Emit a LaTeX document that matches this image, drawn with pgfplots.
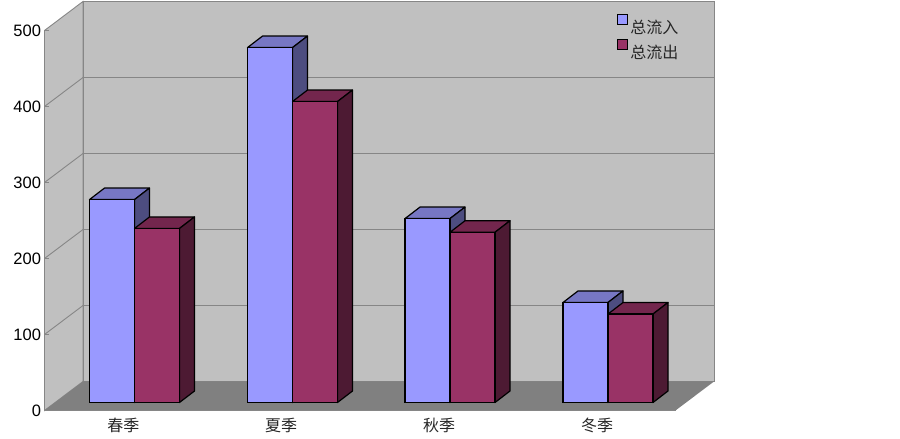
\documentclass[border=0pt]{standalone}
\usepackage{fontspec}
\setmainfont{Liberation Sans}
\newfontfamily\cjk{Noto Sans CJK SC}
\usepackage{pgfplots}
\pgfplotsset{compat=1.18}
\definecolor{infront}{HTML}{9999FF}
\definecolor{intop}{HTML}{7777C4}
\definecolor{inside}{HTML}{4D4D80}
\definecolor{outfront}{HTML}{993366}
\definecolor{outtop}{HTML}{73264D}
\definecolor{outside}{HTML}{4D1A33}
\definecolor{wall}{HTML}{C0C0C0}
\definecolor{floorc}{HTML}{808080}
\definecolor{gridc}{HTML}{868686}

% top and side of one bar: left x, value, top colour, side colour
\newcommand{\barfaces}[4]{%
  \pgfmathsetmacro\xa{#1+45}\pgfmathsetmacro\xb{#1+60}\pgfmathsetmacro\xc{#1+15}%
  \pgfmathsetmacro\ya{#2+10.53}\pgfmathsetmacro\yb{#2+25.66}%
  \edef\tmp{\noexpand\addplot[forget plot,fill=#3,draw=black,line width=1.2pt,line join=round]
    coordinates {(#1,\ya)(\xa,\ya)(\xb,\yb)(\xc,\yb)} -- cycle;
    \noexpand\addplot[forget plot,fill=#4,draw=black,line width=1.2pt,line join=round]
    coordinates {(\xa,10.53)(\xb,25.66)(\xb,\yb)(\xa,\ya)} -- cycle;}%
  \tmp}

\begin{document}
\begin{tikzpicture}
\begin{axis}[
  x=1pt, y=0.76pt,
  xmin=44.5, xmax=675.5,
  ymin=0, ymax=500,
  clip=false,
  axis on top,
  axis x line=bottom, axis y line=left,
  axis line style={draw=gridc,line width=0.9pt,-},
  xtick={123.4,281,439,597},
  xticklabels={春季,夏季,秋季,冬季},
  ytick={0,100,200,300,400,500},
  x tick style={draw=none},
  y tick style={draw=gridc,line width=0.9pt},
  tick align=inside,
  major tick length=5pt,
  x tick label style={font=\cjk\fontsize{16}{18}\selectfont,text=black!85,yshift=-4pt},
  y tick label style={font=\fontsize{16.5}{18}\selectfont},
  /pgf/number format/assume math mode=true,
  legend style={draw=none,fill=none,at={(axis cs:614,525)},anchor=north west,
    font=\cjk\fontsize{16}{18}\selectfont,row sep=2pt,text=black!85},
]
% walls and floor
\addplot[forget plot,fill=wall,draw=gridc,line width=0.9pt] coordinates {(44.5,0)(83,38.16)(83,538.2)(44.5,500)} -- cycle;
\addplot[forget plot,fill=wall,draw=gridc,line width=0.9pt] coordinates {(83,38.16)(714,38.16)(714,538.2)(83,538.2)} -- cycle;
\addplot[forget plot,fill=floorc,draw=none] coordinates {(44.5,0)(675.5,0)(714,38.16)(83,38.16)} -- cycle;
\addplot[forget plot,draw=gridc,line width=0.9pt] coordinates {(44.5,100)(83,138.16)(714,138.16)};
\addplot[forget plot,draw=gridc,line width=0.9pt] coordinates {(44.5,200)(83,238.16)(714,238.16)};
\addplot[forget plot,draw=gridc,line width=0.9pt] coordinates {(44.5,300)(83,338.16)(714,338.16)};
\addplot[forget plot,draw=gridc,line width=0.9pt] coordinates {(44.5,400)(83,438.16)(714,438.16)};
% inflow
\barfaces{89.5}{267}{intop}{inside}
\barfaces{247.5}{467}{intop}{inside}
\barfaces{405}{242}{intop}{inside}
\barfaces{563}{131.6}{intop}{inside}
\addplot[ybar,bar width=45,bar shift=0pt,yshift=8pt,fill=infront,draw=black,line width=1.2pt,
  legend image code/.code={\draw[fill=infront,draw=black,line width=1.2pt] (0pt,-5pt) rectangle (10pt,5pt);}]
  coordinates {(112,267)(270,467)(427.5,242)(585.5,131.6)};
\addlegendentry{总流入}
% outflow
\barfaces{134.5}{229}{outtop}{outside}
\barfaces{292.5}{396}{outtop}{outside}
\barfaces{450}{224}{outtop}{outside}
\barfaces{608}{116.4}{outtop}{outside}
\addplot[ybar,bar width=45,bar shift=0pt,yshift=8pt,fill=outfront,draw=black,line width=1.2pt,
  legend image code/.code={\draw[fill=outfront,draw=black,line width=1.2pt] (0pt,-5pt) rectangle (10pt,5pt);}]
  coordinates {(157,229)(315,396)(472.5,224)(630.5,116.4)};
\addlegendentry{总流出}
\path (axis cs:0,-37.5) rectangle (axis cs:900,540.13);
\end{axis}
\end{tikzpicture}
\end{document}
